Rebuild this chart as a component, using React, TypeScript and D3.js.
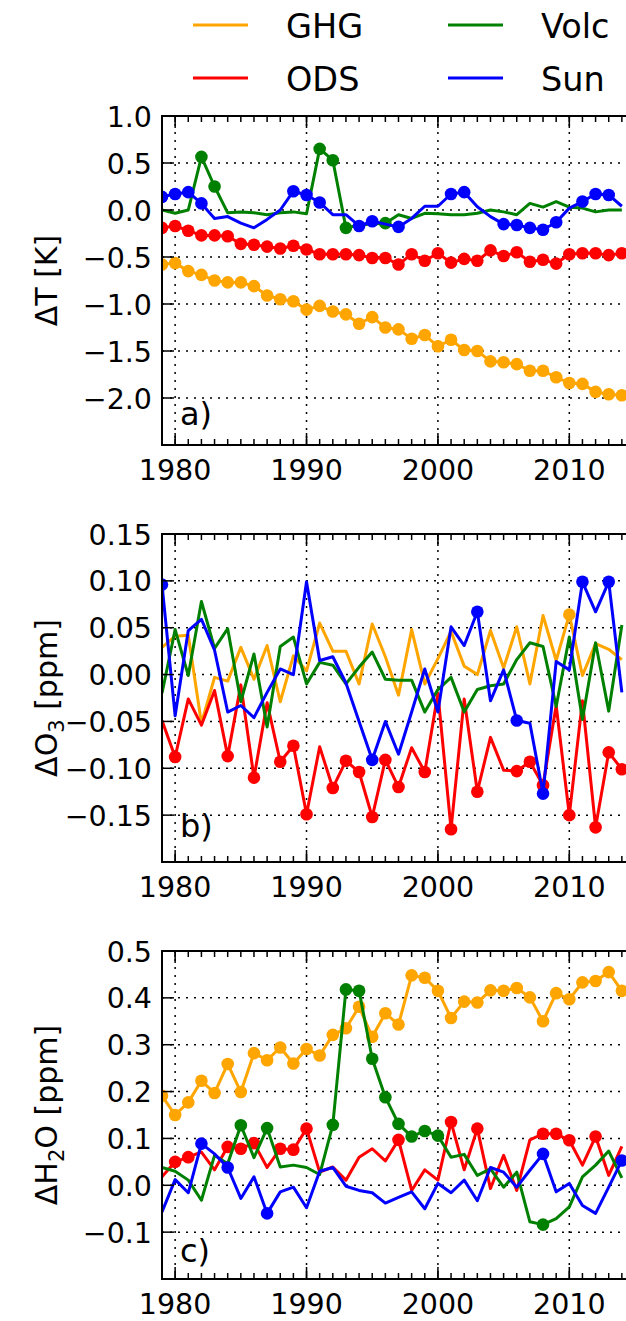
import React from "react";
import * as d3 from "d3";

const years = [1979, 1980, 1981, 1982, 1983, 1984, 1985, 1986, 1987, 1988, 1989, 1990, 1991, 1992, 1993, 1994, 1995, 1996, 1997, 1998, 1999, 2000, 2001, 2002, 2003, 2004, 2005, 2006, 2007, 2008, 2009, 2010, 2011, 2012, 2013, 2014];

const seriesNames = ["GHG", "ODS", "Volc", "Sun"];
const seriesColors = ["#FFA500", "#FF0000", "#008000", "#0000FF"];

// Panel a: Delta T [K]
const tGHG = [-0.58, -0.565, -0.65, -0.69, -0.75, -0.77, -0.77, -0.81, -0.91, -0.95, -0.97, -1.06, -1.02, -1.08, -1.11, -1.21, -1.14, -1.25, -1.27, -1.37, -1.33, -1.45, -1.38, -1.49, -1.5, -1.61, -1.62, -1.64, -1.71, -1.71, -1.78, -1.84, -1.85, -1.935, -1.96, -1.97];
const tODS = [-0.19, -0.17, -0.22, -0.27, -0.27, -0.28, -0.36, -0.37, -0.39, -0.41, -0.38, -0.42, -0.47, -0.47, -0.47, -0.48, -0.51, -0.51, -0.58, -0.47, -0.54, -0.46, -0.56, -0.52, -0.54, -0.43, -0.49, -0.45, -0.55, -0.53, -0.57, -0.47, -0.46, -0.46, -0.48, -0.46];
const tVolc = [0.0, -0.035, 0.0, 0.565, 0.25, -0.03, -0.02, -0.03, -0.05, -0.03, -0.02, -0.04, 0.65, 0.53, -0.19, -0.16, -0.15, -0.14, -0.05, -0.09, -0.035, -0.04, -0.05, -0.05, -0.035, 0.0, -0.02, -0.05, 0.07, 0.03, 0.09, 0.03, 0.02, -0.02, 0.0, 0.0];
const tSun = [0.14, 0.17, 0.19, 0.07, -0.09, -0.07, -0.14, -0.19, -0.1, 0.0, 0.2, 0.16, 0.08, -0.05, -0.05, -0.17, -0.12, -0.15, -0.18, -0.09, 0.04, 0.04, 0.17, 0.19, 0.035, -0.07, -0.15, -0.16, -0.19, -0.21, -0.13, 0.02, 0.09, 0.17, 0.16, 0.04];
const tDotsGHG = years;
const tDotsODS = years;
const tDotsVolc = [1982, 1983, 1991, 1992, 1993, 1996];
const tDotsSun = [1979, 1980, 1981, 1982, 1989, 1990, 1991, 1994, 1995, 1997, 2001, 2002, 2005, 2006, 2007, 2008, 2009, 2011, 2012, 2013];

// Panel b: Delta O3 [ppm]
const oGHG = [0.029, 0.041, 0.042, -0.052, -0.003, -0.007, 0.029, -0.005, 0.031, -0.029, 0.02, 0.004, 0.055, 0.025, 0.025, -0.01, 0.054, 0.019, -0.022, 0.048, -0.01, 0.017, 0.046, 0.009, 0.0, 0.047, 0.007, 0.051, -0.01, 0.063, 0.015, 0.064, -0.001, 0.033, 0.027, 0.016];
const oODS = [-0.049, -0.088, -0.026, -0.054, -0.017, -0.087, -0.011, -0.11, -0.03, -0.093, -0.076, -0.149, -0.077, -0.121, -0.092, -0.104, -0.152, -0.091, -0.12, -0.078, -0.104, -0.02, -0.165, -0.026, -0.125, -0.067, -0.102, -0.103, -0.093, -0.118, -0.033, -0.15, -0.028, -0.163, -0.083, -0.101];
const oVolc = [-0.02, 0.048, -0.001, 0.078, 0.028, 0.049, -0.029, 0.022, -0.056, 0.03, 0.04, -0.01, 0.013, 0.01, -0.01, 0.008, 0.024, -0.005, -0.006, -0.006, -0.04, -0.016, -0.003, -0.04, -0.016, -0.012, -0.01, 0.016, 0.034, 0.03, -0.034, 0.04, -0.048, 0.034, -0.039, 0.053];
const oSun = [0.096, -0.044, 0.047, 0.059, 0.026, -0.04, -0.033, -0.046, -0.019, 0.006, 0.0, 0.099, 0.015, 0.019, -0.009, -0.05, -0.091, -0.05, -0.085, -0.04, 0.006, -0.04, 0.051, 0.031, 0.067, -0.028, 0.005, -0.049, -0.052, -0.127, 0.014, 0.005, 0.099, 0.067, 0.099, -0.019];
const oDotsGHG = [2010];
const oDotsODS = [1980, 1984, 1986, 1988, 1989, 1990, 1992, 1993, 1994, 1995, 1996, 1997, 1999, 2001, 2003, 2006, 2007, 2008, 2010, 2012, 2013, 2014];
const oDotsVolc: number[] = [];
const oDotsSun = [1979, 1995, 2003, 2006, 2008, 2011, 2013];

// Panel c: Delta H2O [ppm]
const wGHG = [0.191, 0.15, 0.177, 0.223, 0.197, 0.259, 0.199, 0.282, 0.267, 0.294, 0.26, 0.291, 0.277, 0.321, 0.335, 0.381, 0.317, 0.367, 0.343, 0.448, 0.443, 0.415, 0.357, 0.392, 0.39, 0.416, 0.415, 0.421, 0.401, 0.35, 0.41, 0.397, 0.433, 0.436, 0.455, 0.415];
const wODS = [0.018, 0.05, 0.06, 0.071, 0.033, 0.082, 0.078, 0.09, 0.038, 0.078, 0.076, 0.121, 0.028, 0.039, 0.011, 0.06, 0.078, 0.052, 0.097, -0.011, 0.033, 0.011, 0.135, 0.033, 0.121, -0.007, 0.064, -0.011, 0.097, 0.11, 0.11, 0.096, 0.043, 0.104, 0.021, 0.083];
const wVolc = [0.038, 0.03, 0.011, -0.032, 0.064, 0.046, 0.128, 0.059, 0.122, 0.039, 0.043, 0.038, 0.023, 0.129, 0.418, 0.415, 0.27, 0.188, 0.131, 0.104, 0.116, 0.106, 0.06, 0.066, 0.021, 0.035, -0.004, 0.028, -0.078, -0.084, -0.071, -0.046, 0.018, 0.043, 0.073, 0.016];
const wSun = [-0.057, 0.012, -0.016, 0.089, 0.067, 0.038, -0.028, 0.018, -0.06, -0.014, -0.004, -0.048, 0.03, 0.038, -0.002, -0.011, -0.016, -0.038, -0.026, -0.014, -0.05, 0.004, -0.016, 0.011, -0.033, 0.038, 0.028, -0.004, 0.032, 0.067, -0.014, 0.004, -0.043, -0.06, -0.004, 0.053];
const wDotsGHG = years;
const wDotsODS = [1980, 1981, 1984, 1985, 1986, 1988, 1989, 1990, 1997, 2001, 2003, 2008, 2009, 2010, 2012];
const wDotsVolc = [1985, 1987, 1992, 1993, 1994, 1995, 1996, 1997, 1998, 1999, 2000, 2008];
const wDotsSun = [1982, 1984, 1987, 2008, 2014];

const xTicks = [1980, 1990, 2000, 2010];
const tTicks = [-2.0, -1.5, -1.0, -0.5, 0.0, 0.5, 1.0];
const oTicks = [-0.15, -0.1, -0.05, 0.0, 0.05, 0.1, 0.15];
const wTicks = [-0.1, 0.0, 0.1, 0.2, 0.3, 0.4, 0.5];

const FONT = "DejaVu Sans";

type Panel = {
  top: number;
  bottom: number;
  domain: [number, number];
  ticks: number[];
  fmt: string;
  label: React.ReactNode;
  letter: string;
  letterY: number;
  series: number[][];
  dots: number[][];
};

const panels: Panel[] = [
  {
    top: 116, bottom: 445, domain: [-2.5, 1.0], ticks: tTicks, fmt: ".1f",
    label: <>ΔT [K]</>, letter: "a)", letterY: 425,
    series: [tGHG, tODS, tVolc, tSun], dots: [tDotsGHG, tDotsODS, tDotsVolc, tDotsSun],
  },
  {
    top: 534, bottom: 862, domain: [-0.2, 0.15], ticks: oTicks, fmt: ".2f",
    label: <>ΔO<tspan fontSize="70%" dy={7}>3</tspan><tspan dy={-7}> [ppm]</tspan></>, letter: "b)", letterY: 837,
    series: [oGHG, oODS, oVolc, oSun], dots: [oDotsGHG, oDotsODS, oDotsVolc, oDotsSun],
  },
  {
    top: 951, bottom: 1279, domain: [-0.2, 0.5], ticks: wTicks, fmt: ".1f",
    label: <>ΔH<tspan fontSize="70%" dy={7}>2</tspan><tspan dy={-7}>O [ppm]</tspan></>, letter: "c)", letterY: 1262,
    series: [wGHG, wODS, wVolc, wSun], dots: [wDotsGHG, wDotsODS, wDotsVolc, wDotsSun],
  },
];

const LEFT = 162;
const RIGHT = 635;
const x = d3.scaleLinear().domain([1979, 2015]).range([LEFT, RIGHT]);
const minorYears = d3.range(1979, 2016);

function fmtTick(v: number, f: string) {
  return d3.format(f)(v).replace("-", "\u2212");
}

function PanelView({ p, idx }: { p: Panel; idx: number }) {
  const y = d3.scaleLinear().domain(p.domain).range([p.bottom, p.top]);
  const line = d3.line<number>().x((_, i) => x(years[i])).y((d) => y(d));
  const clipId = `clip${idx}`;
  const mid = (p.top + p.bottom) / 2;
  return (
    <g>
      <defs>
        <clipPath id={clipId}>
          <rect x={LEFT} y={p.top} width={RIGHT - LEFT} height={p.bottom - p.top} />
        </clipPath>
      </defs>
      {xTicks.map((t) => (
        <line key={"gx" + t} x1={x(t)} x2={x(t)} y1={p.top} y2={p.bottom} stroke="#000" strokeWidth={1.5} strokeDasharray="2,6" />
      ))}
      {p.ticks.map((t) => (
        <line key={"gy" + t} x1={LEFT} x2={RIGHT} y1={y(t)} y2={y(t)} stroke="#000" strokeWidth={1.5} strokeDasharray="2,6" />
      ))}
      <g clipPath={`url(#${clipId})`}>
        {p.series.map((s, si) => (
          <g key={"s" + si}>
            <path d={line(s) || ""} fill="none" stroke={seriesColors[si]} strokeWidth={3} strokeLinejoin="round" />
            {p.dots[si].map((yr) => {
              const i = years.indexOf(yr);
              return <circle key={yr} cx={x(yr)} cy={y(s[i])} r={6.3} fill={seriesColors[si]} />;
            })}
          </g>
        ))}
      </g>
      {minorYears.map((t) => (
        <g key={"mx" + t}>
          <line x1={x(t)} x2={x(t)} y1={p.bottom} y2={p.bottom - 6} stroke="#000" strokeWidth={1.5} />
          <line x1={x(t)} x2={x(t)} y1={p.top} y2={p.top + 6} stroke="#000" strokeWidth={1.5} />
        </g>
      ))}
      {xTicks.map((t) => (
        <g key={"tx" + t}>
          <line x1={x(t)} x2={x(t)} y1={p.bottom} y2={p.bottom - 12} stroke="#000" strokeWidth={1.5} />
          <line x1={x(t)} x2={x(t)} y1={p.top} y2={p.top + 12} stroke="#000" strokeWidth={1.5} />
          <text x={x(t)} y={p.bottom + 35} textAnchor="middle" fontSize={28.5} fontFamily={FONT}>{t}</text>
        </g>
      ))}
      {p.ticks.map((t) => (
        <g key={"ty" + t}>
          <line x1={LEFT} x2={LEFT + 12} y1={y(t)} y2={y(t)} stroke="#000" strokeWidth={1.5} />
          <text x={152} y={y(t) + 10.5} textAnchor="end" fontSize={28.5} fontFamily={FONT}>{fmtTick(t, p.fmt)}</text>
        </g>
      ))}
      <rect x={LEFT} y={p.top} width={RIGHT - LEFT} height={p.bottom - p.top} fill="none" stroke="#000" strokeWidth={2} />
      <text x={LEFT + 18} y={p.letterY} fontSize={32} fontFamily={FONT}>{p.letter}</text>
      <text transform={`translate(57,${mid}) rotate(-90)`} textAnchor="middle" fontSize={30} fontFamily={FONT}>{p.label}</text>
    </g>
  );
}

const legendPos = [
  { lx: 193, ly: 25 },
  { lx: 193, ly: 78 },
  { lx: 448, ly: 25 },
  { lx: 448, ly: 78 },
];

export default function App() {
  return (
    <svg width={626} height={1321} style={{ position: "absolute", left: 0, top: 0, background: "#fff" }}>
      <rect x={0} y={0} width={626} height={1321} fill="#fff" />
      {seriesNames.map((n, i) => (
        <g key={n}>
          <line x1={legendPos[i].lx} x2={legendPos[i].lx + 55} y1={legendPos[i].ly} y2={legendPos[i].ly} stroke={seriesColors[i]} strokeWidth={3} />
          <text x={legendPos[i].lx + 93} y={legendPos[i].ly + 13} fontSize={33.5} fontFamily={FONT}>{n}</text>
        </g>
      ))}
      {panels.map((p, i) => (
        <PanelView key={i} p={p} idx={i} />
      ))}
    </svg>
  );
}
